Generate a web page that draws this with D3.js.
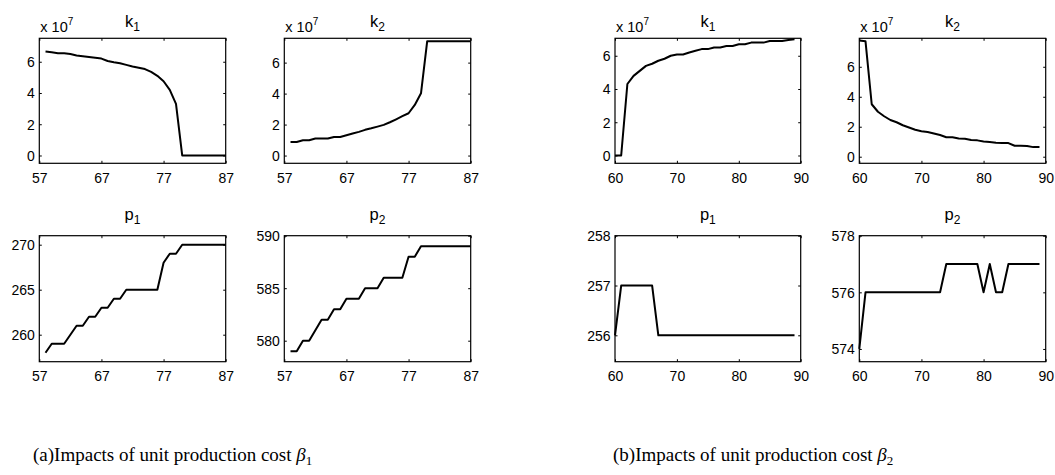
<!DOCTYPE html>
<html>
<head>
<meta charset="utf-8">
<title>Impacts of unit production cost</title>
<script src="https://d3js.org/d3.v7.min.js"></script>
<style>
  body { margin: 0; background: #fff; }
  svg text { font-family: 'Liberation Sans', Arial, sans-serif; fill: #000; }
</style>
</head>
<body>
<div id="chart"></div>
<script>
// ---- data, panel (a): beta1 varies 58..87
var xA = [58,59,60,61,62,63,64,65,66,67,68,69,70,71,72,73,74,75,76,77,78,79,80,81,82,83,84,85,86,87];
var k1A = [6.65,6.6,6.55,6.55,6.5,6.4,6.35,6.3,6.25,6.2,6.05,5.97,5.9,5.8,5.7,5.62,5.53,5.35,5.1,4.75,4.2,3.3,0,0,0,0,0,0,0,0];
var k2A = [0.88,0.88,0.99,0.99,1.1,1.1,1.1,1.2,1.2,1.31,1.42,1.53,1.66,1.76,1.87,1.98,2.15,2.34,2.54,2.73,3.27,4.02,7.38,7.38,7.38,7.38,7.38,7.38,7.38,7.38];
var p1A = [258,259,259,259,260,261,261,262,262,263,263,264,264,265,265,265,265,265,265,268,269,269,270,270,270,270,270,270,270,270];
var p2A = [579,579,580,580,581,582,582,583,583,584,584,584,585,585,585,586,586,586,586,588,588,589,589,589,589,589,589,589,589,589];

// ---- data, panel (b): beta2 varies 60..89
var xB = [60,61,62,63,64,65,66,67,68,69,70,71,72,73,74,75,76,77,78,79,80,81,82,83,84,85,86,87,88,89];
var k1B = [0,0,4.3,4.79,5.09,5.39,5.52,5.7,5.82,6.0,6.08,6.08,6.2,6.3,6.4,6.4,6.5,6.5,6.59,6.59,6.69,6.69,6.79,6.79,6.79,6.89,6.89,6.89,6.95,6.99];
var k2B = [7.75,7.7,3.5,3.0,2.7,2.45,2.3,2.1,1.95,1.8,1.7,1.65,1.55,1.45,1.3,1.3,1.22,1.2,1.12,1.09,1.02,0.98,0.93,0.91,0.91,0.73,0.73,0.72,0.64,0.64];
var p1B = [256,257,257,257,257,257,257,256,256,256,256,256,256,256,256,256,256,256,256,256,256,256,256,256,256,256,256,256,256,256];
var p2B = [574,576,576,576,576,576,576,576,576,576,576,576,576,576,577,577,577,577,577,577,576,577,576,576,577,577,577,577,577,577];

// ---- tick labels
var xTicksA = [57, 67, 77, 87];
var xTicksB = [60, 70, 80, 90];
var kTicks = [0, 2, 4, 6];
var p1TicksA = [260, 265, 270];
var p2TicksA = [580, 585, 590];
var p1TicksB = [256, 257, 258];
var p2TicksB = [574, 576, 578];

var W = 1055, H = 475;
var svg = d3.select('#chart').append('svg')
  .attr('width', W).attr('height', H);

var colX = [[39.3, 225.7], [284.3, 470.7], [615, 800.7], [859.3, 1045.7]];
var rowY = [[38.3, 163.3], [235.7, 361.7]];
var tickLen = 2.5;
var fmt = d3.format('d');

function panel(col, row, xs, ys, xDom, yDom, xTicks, yTicks, name, sub, expo) {
  var x = d3.scaleLinear().domain(xDom).range(colX[col]);
  var y = d3.scaleLinear().domain(yDom).range([rowY[row][1], rowY[row][0]]);
  var g = svg.append('g');

  // ticks inside on all four sides (matlab box style)
  var axes = [
    [d3.axisBottom(x), 0, rowY[row][1], true],
    [d3.axisTop(x), 0, rowY[row][0], false],
    [d3.axisLeft(y), colX[col][0], 0, true],
    [d3.axisRight(y), colX[col][1], 0, false]
  ];
  axes.forEach(function(a, i) {
    var ax = a[0].tickValues(i < 2 ? xTicks : yTicks)
      .tickSizeInner(-tickLen).tickSizeOuter(0).tickPadding(i < 2 ? 9.5 : 4.5);
    ax.tickFormat(a[3] ? fmt : '');
    var ag = g.append('g').attr('transform', 'translate(' + a[1] + ',' + a[2] + ')').call(ax);
    ag.select('.domain').remove();
    ag.selectAll('line').attr('stroke', '#000').attr('stroke-width', 1);
    ag.selectAll('text').attr('font-size', 14).attr('fill', '#000')
      .attr('font-family', "'Liberation Sans', Arial, sans-serif");
    if (i == 2) ag.selectAll('text').attr('dy', '0.35em');
  });

  g.append('rect')
    .attr('x', colX[col][0]).attr('y', rowY[row][0])
    .attr('width', colX[col][1] - colX[col][0])
    .attr('height', rowY[row][1] - rowY[row][0])
    .attr('fill', 'none').attr('stroke', '#000').attr('stroke-width', 1.2);

  var line = d3.line().x(function(d) { return x(d[0]); }).y(function(d) { return y(d[1]); });
  g.append('path')
    .datum(xs.map(function(v, i) { return [v, ys[i]]; }))
    .attr('d', line)
    .attr('fill', 'none').attr('stroke', '#000')
    .attr('stroke-width', 2).attr('stroke-linejoin', 'round');

  // title with subscript
  var cx = (colX[col][0] + colX[col][1]) / 2;
  var t = g.append('text').attr('x', cx).attr('y', row == 0 ? 26.5 : 219.5)
    .attr('text-anchor', 'middle').attr('font-size', 16.5);
  t.append('tspan').text(name);
  t.append('tspan').attr('font-size', 12).attr('dy', 4).text(sub);

  if (expo) {
    var e = g.append('text').attr('x', colX[col][0] + 1).attr('y', 31.5).attr('font-size', 14.5);
    e.append('tspan').text('x 10');
    e.append('tspan').attr('font-size', 10).attr('dy', -7).text('7');
  }
}

panel(0, 0, xA, k1A, [57, 87], [-0.5, 7.5], xTicksA, kTicks, 'k', '1', true);
panel(1, 0, xA, k2A, [57, 87], [-0.5, 7.57], xTicksA, kTicks, 'k', '2', true);
panel(0, 1, xA, p1A, [57, 87], [257, 271], xTicksA, p1TicksA, 'p', '1', false);
panel(1, 1, xA, p2A, [57, 87], [578, 590], xTicksA, p2TicksA, 'p', '2', false);
panel(2, 0, xB, k1B, [60, 90], [-0.47, 7.05], xTicksB, kTicks, 'k', '1', true);
panel(3, 0, xB, k2B, [60, 90], [-0.44, 7.9], xTicksB, kTicks, 'k', '2', true);
panel(2, 1, xB, p1B, [60, 90], [255.47, 258], xTicksB, p1TicksB, 'p', '1', false);
panel(3, 1, xB, p2B, [60, 90], [573.55, 578], xTicksB, p2TicksB, 'p', '2', false);

// captions
var captions = [
  { lab: '(a)Impacts of unit production cost ', sub: '1', x: 33 },
  { lab: '(b)Impacts of unit production cost ', sub: '2', x: 613 }
];
captions.forEach(function(c) {
  var t = svg.append('text')
    .attr('x', c.x).attr('y', 461).attr('font-size', 19)
    .style('font-family', "'Liberation Serif', 'DejaVu Serif', serif");
  t.append('tspan').text(c.lab);
  t.append('tspan').attr('font-style', 'italic').text('β');
  t.append('tspan').attr('font-size', 13).attr('dy', 4).text(c.sub);
});
</script>
</body>
</html>
